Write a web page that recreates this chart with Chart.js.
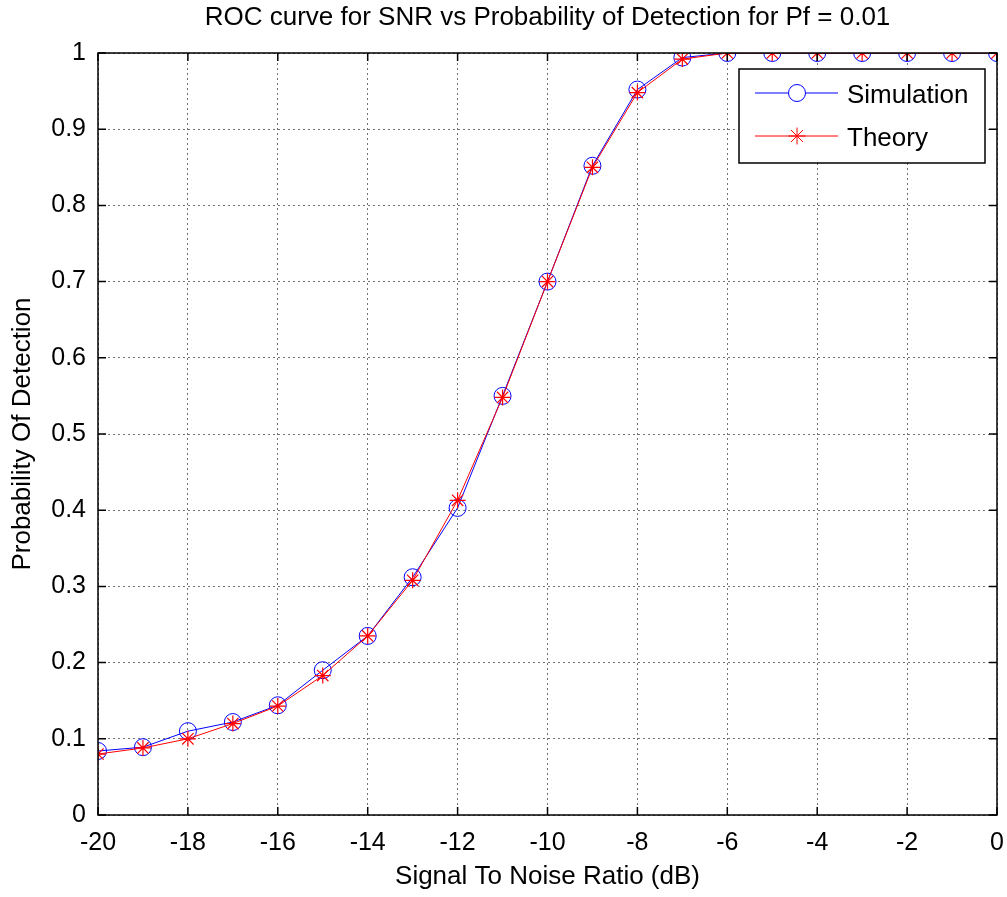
<!DOCTYPE html>
<html>
<head>
<meta charset="utf-8">
<script src="https://cdn.jsdelivr.net/npm/chart.js@4"></script>
<style>
html,body{margin:0;padding:0;background:#fff;}
#wrap{width:1007px;height:897px;position:relative;}
</style>
</head>
<body>
<div id="wrap"><canvas id="c" width="1007" height="897"></canvas></div>
<script>
const snr = [-20,-19,-18,-17,-16,-15,-14,-13,-12,-11,-10,-9,-8,-7,-6,-5,-4,-3,-2,-1,0];
const simulation = [0.084,0.089,0.110,0.122,0.144,0.190,0.235,0.312,0.403,0.550,0.700,0.852,0.952,0.994,1,1,1,1,1,1,1];
const theory = [0.080,0.088,0.100,0.120,0.143,0.183,0.235,0.308,0.413,0.548,0.700,0.850,0.948,0.992,1,1,1,1,1,1,1];
const xTicks = [-20,-18,-16,-14,-12,-10,-8,-6,-4,-2,0];
const yTicks = [0,0.1,0.2,0.3,0.4,0.5,0.6,0.7,0.8,0.9,1];
const yTickLabels = ['0','0.1','0.2','0.3','0.4','0.5','0.6','0.7','0.8','0.9','1'];
const seriesNames = ['Simulation','Theory'];
const chartTitle = 'ROC curve for SNR vs Probability of Detection for Pf = 0.01';
const FONT = "'Liberation Sans', Arial, sans-serif";

const boxPlugin = {
  id: 'matlabBox',
  afterDatasetsDraw(chart) {
    const ctx = chart.ctx, a = chart.chartArea;
    const xs = chart.scales.x, ys = chart.scales.y;
    ctx.save();
    ctx.strokeStyle = '#000';
    ctx.lineWidth = 1.5;
    ctx.strokeRect(a.left, a.top, a.right - a.left, a.bottom - a.top);
    const tl = 8;
    ctx.beginPath();
    xTicks.forEach(v => {
      const px = xs.getPixelForValue(v);
      ctx.moveTo(px, a.bottom); ctx.lineTo(px, a.bottom - tl);
      ctx.moveTo(px, a.top); ctx.lineTo(px, a.top + tl);
    });
    yTicks.forEach(v => {
      const py = ys.getPixelForValue(v);
      ctx.moveTo(a.left, py); ctx.lineTo(a.left + tl, py);
      ctx.moveTo(a.right, py); ctx.lineTo(a.right - tl, py);
    });
    ctx.stroke();
    ctx.restore();
  },
  afterDraw(chart) {
    const ctx = chart.ctx, a = chart.chartArea;
    ctx.save();
    // title centred over the plot area
    ctx.fillStyle = '#000';
    ctx.font = '26px ' + FONT;
    ctx.textAlign = 'center';
    ctx.textBaseline = 'middle';
    ctx.fillText(chartTitle, (a.left + a.right) / 2, 18);
    // legend
    const lx = 739, ly = 69, lw = 246, lh = 94;
    ctx.fillStyle = '#fff';
    ctx.fillRect(lx, ly, lw, lh);
    ctx.strokeStyle = '#000';
    ctx.lineWidth = 1.5;
    ctx.strokeRect(lx, ly, lw, lh);
    const rows = [93, 136];
    const colors = ['#0000ff', '#ff0000'];
    rows.forEach((ry, i) => {
      ctx.strokeStyle = colors[i];
      ctx.lineWidth = 1;
      ctx.beginPath();
      ctx.moveTo(755, ry); ctx.lineTo(838, ry);
      ctx.stroke();
      const ptStyle = i === 0 ? 'circle' : 'star';
      Chart.helpers.drawPoint(ctx, {pointStyle: ptStyle, radius: 8.5, borderWidth: 1, rotation: 0}, 797, ry);
      ctx.fillStyle = '#000';
      ctx.font = '26px ' + FONT;
      ctx.textBaseline = 'middle';
      ctx.textAlign = 'left';
      ctx.fillText(seriesNames[i], 847, ry + 3);
    });
    ctx.restore();
  }
};

new Chart(document.getElementById('c'), {
  type: 'line',
  data: {
    datasets: [
      {
        label: seriesNames[0],
        data: snr.map((x, i) => ({x, y: simulation[i]})),
        borderColor: '#0000ff',
        backgroundColor: 'rgba(0,0,0,0)',
        borderWidth: 1,
        pointStyle: 'circle',
        pointRadius: 8.5,
        pointBorderWidth: 1,
        pointBorderColor: '#0000ff',
        pointBackgroundColor: 'rgba(0,0,0,0)',
        tension: 0,
        order: 1
      },
      {
        label: seriesNames[1],
        data: snr.map((x, i) => ({x, y: theory[i]})),
        borderColor: '#ff0000',
        backgroundColor: 'rgba(0,0,0,0)',
        borderWidth: 1,
        pointStyle: 'star',
        pointRadius: 8,
        pointBorderWidth: 1.2,
        pointBorderColor: '#ff0000',
        pointBackgroundColor: 'rgba(0,0,0,0)',
        tension: 0,
        order: 0
      }
    ]
  },
  options: {
    responsive: false,
    animation: false,
    events: [],
    layout: { padding: { top: 53, left: 0, right: 10, bottom: 0 } },
    plugins: {
      legend: { display: false },
      tooltip: { enabled: false },
      title: { display: false }
    },
    scales: {
      x: {
        type: 'linear',
        min: -20, max: 0,
        afterBuildTicks(s) { s.ticks = xTicks.map(v => ({value: v})); },
        afterFit(s) { s.height = 82; s.paddingLeft = 0; s.paddingRight = 0; },
        ticks: {
          color: '#000',
          font: { family: FONT, size: 25 },
          padding: 13,
          maxRotation: 0,
          autoSkip: false,
          callback: v => String(v)
        },
        grid: {
          color: 'rgba(0,0,0,0.55)',
          lineWidth: 1,
          drawTicks: false
        },
        border: { display: false, dash: [2, 3] },
        title: {
          display: true,
          text: 'Signal To Noise Ratio (dB)',
          color: '#000',
          font: { family: FONT, size: 26, lineHeight: 1.2 },
          padding: { top: 0, bottom: 5 }
        }
      },
      y: {
        type: 'linear',
        min: 0, max: 1,
        afterBuildTicks(s) { s.ticks = yTicks.map(v => ({value: v})); },
        afterFit(s) { s.width = 98; s.paddingTop = 0; s.paddingBottom = 0; },
        ticks: {
          color: '#000',
          font: { family: FONT, size: 25 },
          padding: 12,
          autoSkip: false,
          callback: (v) => { const i = yTicks.findIndex(t => Math.abs(t - v) < 1e-9); return i >= 0 ? yTickLabels[i] : ''; }
        },
        grid: {
          color: 'rgba(0,0,0,0.55)',
          lineWidth: 1,
          drawTicks: false
        },
        border: { display: false, dash: [2, 3] },
        title: {
          display: true,
          text: 'Probability Of Detection',
          color: '#000',
          font: { family: FONT, size: 26, lineHeight: 1.2 },
          padding: { top: 7, bottom: 0 }
        }
      }
    }
  },
  plugins: [boxPlugin]
});
</script>
</body>
</html>
